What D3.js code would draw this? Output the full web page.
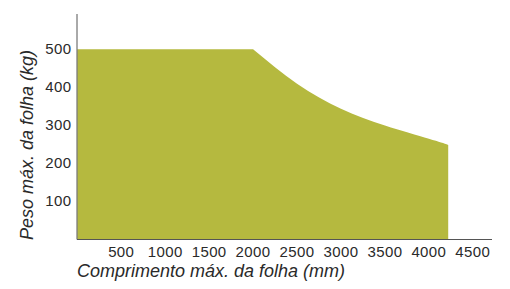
<!DOCTYPE html>
<html>
<head>
<meta charset="utf-8">
<script src="https://cdn.jsdelivr.net/npm/d3@7"></script>
<style>
body { margin: 0; background: #fff; }
text { font-family: "Liberation Sans", Arial, sans-serif; fill: #2a2a2a; }
</style>
</head>
<body>
<div id="chart"></div>
<script>
// load curve: max sheet weight (kg) vs sheet length (mm)
const lengths = [0, 2000, 2500, 3000, 3500, 4000, 4220];
const weights = [500, 500, 409, 343, 299, 264, 248];
const xTicks = [500, 1000, 1500, 2000, 2500, 3000, 3500, 4000, 4500];
const yTicks = [100, 200, 300, 400, 500];
const xTitle = "Comprimento máx. da folha (mm)";
const yTitle = "Peso máx. da folha (kg)";

const W = 510, H = 289;
const svg = d3.select("#chart").append("svg")
  .attr("width", W).attr("height", H);

const x = d3.scaleLinear().domain([0, 4700]).range([77.3, 490.4]);
const y = d3.scaleLinear().domain([0, 500]).range([239, 49.3]);

const pts = lengths.map((d, i) => [d, weights[i]]);
const curvePts = pts.slice(1);

// flat top, then smooth decay from the kink at 2000
const line = d3.line().x(d => x(d[0])).y(d => y(d[1])).curve(d3.curveNatural);
const curveD = line(curvePts).replace(/^M/, "L");
const areaD = "M" + x(0) + "," + y(0) +
  "L" + x(pts[0][0]) + "," + y(pts[0][1]) + curveD +
  "L" + x(lengths[lengths.length - 1]) + "," + y(0) + "Z";

svg.append("path").attr("d", areaD).attr("fill", "#b5b93f");

// axes (lines only, no tick marks)
svg.append("line").attr("x1", 77).attr("x2", 77).attr("y1", 14).attr("y2", 239.5)
  .attr("stroke", "#555").attr("stroke-width", 1);
svg.append("line").attr("x1", 77).attr("x2", 492).attr("y1", 239.5).attr("y2", 239.5)
  .attr("stroke", "#555").attr("stroke-width", 1);

svg.selectAll(".xt").data(xTicks).enter().append("text")
  .attr("x", d => x(d)).attr("y", 257)
  .attr("text-anchor", "middle").attr("font-size", 15)
  .attr("letter-spacing", 0.4)
  .text(d => d);

svg.selectAll(".yt").data(yTicks).enter().append("text")
  .attr("x", 71.5).attr("y", d => y(d) + 5)
  .attr("text-anchor", "end").attr("font-size", 15)
  .attr("letter-spacing", 0.4)
  .text(d => d);

svg.append("text").attr("x", 77).attr("y", 277)
  .attr("font-size", 18).attr("font-style", "italic")
  .text(xTitle);

svg.append("text").attr("transform", "translate(33,145) rotate(-90)")
  .attr("text-anchor", "middle")
  .attr("font-size", 18).attr("font-style", "italic")
  .text(yTitle);
</script>
</body>
</html>
